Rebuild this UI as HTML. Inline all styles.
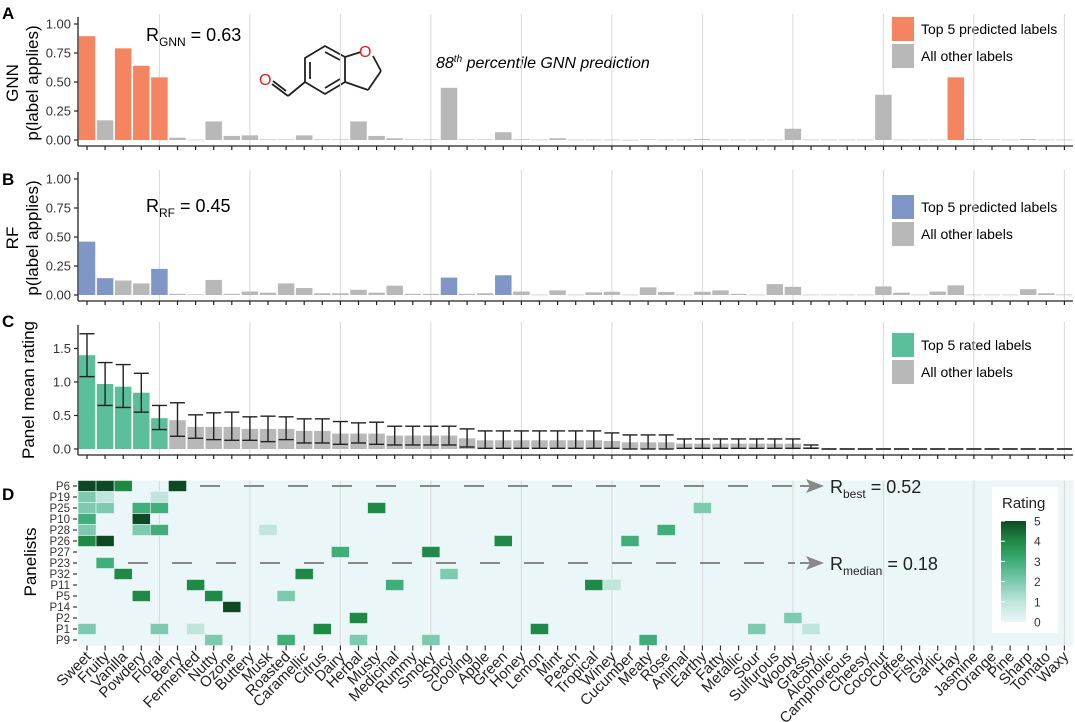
<!DOCTYPE html>
<html><head><meta charset="utf-8">
<style>
html,body{margin:0;padding:0;background:#fff;}
svg{display:block;font-family:"Liberation Sans",Arial,sans-serif;}
</style></head>
<body>
<svg id="chart" width="1075" height="722" viewBox="0 0 1075 722" xmlns="http://www.w3.org/2000/svg">
<g id="static">
  <text x="2" y="19" font-size="17" font-weight="bold">A</text>
  <text x="2" y="185" font-size="17" font-weight="bold">B</text>
  <text x="2" y="327" font-size="17" font-weight="bold">C</text>
  <text x="2" y="500" font-size="17" font-weight="bold">D</text>
  <text transform="translate(18,83) rotate(-90)" text-anchor="middle" font-size="17">GNN</text>
  <text transform="translate(38,83) rotate(-90)" text-anchor="middle" font-size="17">p(label applies)</text>
  <text transform="translate(18,238) rotate(-90)" text-anchor="middle" font-size="17">RF</text>
  <text transform="translate(38,238) rotate(-90)" text-anchor="middle" font-size="17">p(label applies)</text>
  <text transform="translate(34,390) rotate(-90)" text-anchor="middle" font-size="17">Panel mean rating</text>
  <text transform="translate(36,562) rotate(-90)" text-anchor="middle" font-size="17">Panelists</text>
  <text x="146" y="41" font-size="18">R<tspan font-size="12" dy="5">GNN</tspan><tspan dy="-5"> = 0.63</tspan></text>
  <text x="146" y="212" font-size="18">R<tspan font-size="12" dy="5">RF</tspan><tspan dy="-5"> = 0.45</tspan></text>
  <text x="436" y="68" font-size="16" font-style="italic">88<tspan font-size="10" dy="-6">th</tspan><tspan dy="6"> percentile GNN prediction</tspan></text>
  <g stroke="#222" stroke-width="1.8" fill="none">
    <polygon points="325,46 345,57 345,82 325,94 305,82 305,58"/>
    <line x1="325" y1="52" x2="340" y2="60"/>
    <line x1="340" y1="79" x2="325" y2="88"/>
    <line x1="310" y1="62" x2="310" y2="79"/>
    <line x1="345" y1="57" x2="361" y2="52"/>
    <line x1="373" y1="56" x2="381" y2="71"/>
    <line x1="381" y1="71" x2="368" y2="90"/>
    <line x1="368" y1="90" x2="345" y2="82"/>
    <line x1="305" y1="82" x2="288" y2="96"/>
    <line x1="288" y1="96" x2="272" y2="84"/>
    <line x1="286" y1="91" x2="273" y2="81"/>
  </g>
  <text x="359" y="57" font-size="16" fill="#e0201b">O</text>
  <text x="259" y="85" font-size="16" fill="#e0201b">O</text>
  <rect x="892" y="17" width="22" height="24" fill="#f58560"/>
  <rect x="892" y="44" width="22" height="24" fill="#b8b8b8"/>
  <text x="921" y="34" font-size="14">Top 5 predicted labels</text>
  <text x="921" y="61" font-size="14">All other labels</text>
  <rect x="892" y="195" width="22" height="24" fill="#7f96c6"/>
  <rect x="892" y="222" width="22" height="24" fill="#b8b8b8"/>
  <text x="921" y="212" font-size="14">Top 5 predicted labels</text>
  <text x="921" y="239" font-size="14">All other labels</text>
  <rect x="892" y="333" width="22" height="24" fill="#5bbf9c"/>
  <rect x="892" y="360" width="22" height="24" fill="#b8b8b8"/>
  <text x="921" y="350" font-size="14">Top 5 rated labels</text>
  <text x="921" y="377" font-size="14">All other labels</text>
</g>
<g id="dyn"></g>
</svg>
<script>
const labels = ["Sweet","Fruity","Vanilla","Powdery","Floral","Berry","Fermented","Nutty","Ozone","Buttery","Musk","Roasted","Caramellic","Citrus","Dairy","Herbal","Musty","Medicinal","Rummy","Smoky","Spicy","Cooling","Apple","Green","Honey","Lemon","Mint","Peach","Tropical","Winey","Cucumber","Meaty","Rose","Animal","Earthy","Fatty","Metallic","Sour","Sulfurous","Woody","Grassy","Alcoholic","Camphoreous","Cheesy","Coconut","Coffee","Fishy","Garlic","Hay","Jasmine","Orange","Pine","Sharp","Tomato","Waxy"];
const gnnValues = [0.895,0.17,0.79,0.64,0.54,0.02,0.003,0.16,0.035,0.04,0.005,0.005,0.04,0.005,0.005,0.16,0.035,0.015,0.005,0.005,0.45,0.005,0.005,0.067,0.006,0.003,0.015,0.003,0.003,0.003,0.002,0.005,0.003,0.003,0.008,0.003,0.003,0.003,0.003,0.097,0.003,0.003,0.003,0.003,0.39,0.003,0.003,0.003,0.54,0.008,0.005,0.003,0.008,0.003,0.003];
const gnnTop = [0,2,3,4,48];
const rfValues = [0.46,0.145,0.125,0.10,0.225,0.01,0.005,0.13,0.01,0.03,0.02,0.10,0.06,0.015,0.015,0.045,0.02,0.08,0.01,0.01,0.15,0.01,0.015,0.17,0.03,0.003,0.04,0.003,0.023,0.028,0.003,0.066,0.026,0.003,0.028,0.04,0.01,0.003,0.094,0.07,0.003,0.003,0.003,0.003,0.074,0.02,0.003,0.03,0.083,0.003,0.003,0.003,0.05,0.015,0.003];
const rfTop = [0,1,4,20,23];
const panelMean = [1.40,0.97,0.93,0.84,0.46,0.43,0.33,0.33,0.33,0.30,0.30,0.30,0.27,0.27,0.23,0.23,0.23,0.20,0.20,0.20,0.20,0.16,0.13,0.13,0.13,0.13,0.13,0.13,0.13,0.12,0.10,0.10,0.10,0.08,0.08,0.08,0.08,0.08,0.08,0.08,0.03,0,0,0,0,0,0,0,0,0,0,0,0,0,0];
const errUpper = [1.72,1.29,1.26,1.13,0.65,0.69,0.51,0.54,0.55,0.48,0.49,0.48,0.45,0.45,0.41,0.39,0.40,0.34,0.34,0.34,0.34,0.30,0.27,0.27,0.27,0.27,0.27,0.27,0.27,0.24,0.21,0.21,0.21,0.15,0.15,0.15,0.15,0.15,0.15,0.15,0.06,0,0,0,0,0,0,0,0,0,0,0,0,0,0];
const errLower = [1.08,0.65,0.62,0.55,0.29,0.19,0.16,0.14,0.13,0.13,0.11,0.14,0.09,0.09,0.07,0.09,0.07,0.06,0.06,0.06,0.06,0.03,0.01,0.01,0.01,0.01,0.01,0.01,0.01,0.01,0,0,0,0.01,0.01,0.01,0.01,0.01,0.01,0.01,0.01,0,0,0,0,0,0,0,0,0,0,0,0,0,0];
const panelists = ["P6","P19","P25","P10","P28","P26","P27","P23","P32","P11","P5","P14","P2","P1","P9"];
const cellRows = [0,0,0,0, 1,1,1, 2,2,2,2,2,2, 3,3, 4,4,4,4,4, 5,5,5,5, 6,6, 7, 8,8,8, 9,9,9,9, 10,10,10, 11, 12,12, 13,13,13,13,13,13,13, 14,14,14,14,14];
const cellCols = [0,1,2,5, 0,1,4, 0,1,3,4,16,34, 0,3, 0,3,4,10,32, 0,1,23,30, 14,19, 1, 2,12,20, 6,17,28,29, 3,7,11, 8, 15,39, 0,4,6,13,25,37,40, 7,11,15,19,31];
const cellVals = [5,5,4,5, 2,1,1, 2,2,3,3,4,2, 3,5, 2,2,3,1,3, 4,5,4,3, 3,4, 3, 4,4,2, 4,3,4,1, 4,4,2, 5, 4,2, 2,2,1,4,4,2,1, 2,3,2,2,3];
const ratingTicks = [0,1,2,3,4,5];
const aTicks = [0,0.25,0.5,0.75,1.0];
const cTicks = [0,0.5,1.0,1.5];

const NS = "http://www.w3.org/2000/svg";
const dyn = document.getElementById("dyn");
function mk(tag, attrs, parent, txt){
  const el = document.createElementNS(NS, tag);
  for (const k in attrs) el.setAttribute(k, attrs[k]);
  if (txt !== undefined) el.textContent = txt;
  (parent||dyn).appendChild(el);
  return el;
}
const X0 = 87, DX = 18.1, BW = 16.5;
const xc = i => X0 + DX * i;
const plotL = 78, plotR = 1073;
const yA = v => 140 - v * 116;
const yB = v => 295 - v * 116;
const yC = v => 449 - v * 67;
const HM_TOP = 480.5, ROWH = 11;
const colorScale = ["#eaf6f8","#bfe5dc","#7dcab0","#3fae78","#1f8a45","#0d4a23"];

let bg = mk("rect",{x:plotL,y:HM_TOP,width:plotR-plotL,height:ROWH*panelists.length,fill:"#eaf6f8"});



function grid(top,bottom){
  for (let i = 4; i < labels.length; i += 5) {
    const g = mk("line",{x1:xc(i),x2:xc(i),y1:top,y2:bottom,stroke:"#d9d9d9","stroke-width":1});
    
    
  }
}
grid(14,146); grid(170,301); grid(322,455); grid(HM_TOP,HM_TOP+ROWH*panelists.length);

function axes(yfn, ticks, top, axisY, fmt, name){
  const ya = mk("line",{x1:plotL,x2:plotL,y1:top,y2:axisY,stroke:"#222","stroke-width":1.3});
  
  
  const xa = mk("line",{x1:plotL,x2:plotR,y1:axisY,y2:axisY,stroke:"#222","stroke-width":1.3});
  
  
  ticks.forEach(t => {
    const y = yfn(t);
    const tk = mk("line",{x1:plotL-4,x2:plotL,y1:y,y2:y,stroke:"#222","stroke-width":1.2});
    
    
    const tl = mk("text",{x:plotL-7,y:y+4.5,"text-anchor":"end","font-size":13,fill:"#333"},null,fmt(t));
    
    
  });
  labels.forEach((l,i) => {
    const tk = mk("line",{x1:xc(i),x2:xc(i),y1:axisY,y2:axisY+4,stroke:"#222","stroke-width":1.2});
    
    
  });
}
axes(yA, aTicks, 17, 146, t=>t.toFixed(2), "panel-a");
axes(yB, aTicks, 172, 301, t=>t.toFixed(2), "panel-b");
axes(yC, cTicks, 325, 455, t=>t.toFixed(1), "panel-c");

gnnValues.forEach((v,i) => {
  const top = gnnTop.includes(i);
  const r = mk("rect",{x:xc(i)-BW/2,y:yA(v),width:BW,height:Math.max(0.6,yA(0)-yA(v)),fill:top?"#f58560":"#b8b8b8"});
  
  
});
rfValues.forEach((v,i) => {
  const top = rfTop.includes(i);
  const r = mk("rect",{x:xc(i)-BW/2,y:yB(v),width:BW,height:Math.max(0.6,yB(0)-yB(v)),fill:top?"#7f96c6":"#b8b8b8"});
  
  
});
panelMean.forEach((v,i) => {
  const r = mk("rect",{x:xc(i)-BW/2,y:yC(v),width:BW,height:Math.max(0,yC(0)-yC(v)),fill:i<5?"#5bbf9c":"#b8b8b8"});
  
  
  const g = mk("g",{stroke:"#222","stroke-width":1.4});
  
  
  const hu = yC(errUpper[i]), hl = yC(errLower[i]);
  mk("line",{x1:xc(i),x2:xc(i),y1:hu,y2:hl},g);
  mk("line",{x1:xc(i)-7.5,x2:xc(i)+7.5,y1:hu,y2:hu},g);
  mk("line",{x1:xc(i)-7.5,x2:xc(i)+7.5,y1:hl,y2:hl},g);
});

cellVals.forEach((v,k) => {
  const c = mk("rect",{x:xc(cellCols[k])-DX/2,y:HM_TOP+cellRows[k]*ROWH,width:DX,height:ROWH,fill:colorScale[v],stroke:"#eaf6f8","stroke-width":0.6});
  
  
});
panelists.forEach((p,r) => {
  const y = HM_TOP + r*ROWH + ROWH/2;
  const t = mk("text",{x:plotL-8,y:y+4,"text-anchor":"end","font-size":11.5,fill:"#333"},null,p);
  
  
  const tk = mk("line",{x1:plotL-5,x2:plotL-1,y1:y,y2:y,stroke:"#333","stroke-width":1.2});
  
  
});
const hmBottom = HM_TOP + ROWH*panelists.length;
labels.forEach((l,i) => {
  const tk = mk("line",{x1:xc(i),x2:xc(i),y1:hmBottom,y2:hmBottom+5,stroke:"#333","stroke-width":1.2});
  
  
  const t = mk("text",{transform:`translate(${xc(i)+5},${hmBottom+12}) rotate(-45)`,"text-anchor":"end","font-size":15,fill:"#222"},null,l);
  
  
});

function dashArrow(row, x1, name, main, sub, val){
  const y = HM_TOP + row*ROWH + ROWH/2;
  const l = mk("line",{x1:x1,x2:795,y1:y,y2:y,stroke:"#888","stroke-width":2,"stroke-dasharray":"20 24"});
  
  
  const s = mk("line",{x1:800,x2:812,y1:y,y2:y,stroke:"#888","stroke-width":2});
  
  
  const a = mk("polygon",{points:`806,${y-7} 824,${y} 806,${y+7} 810,${y}`,fill:"#888"});
  
  
  const t = mk("text",{x:830,y:y+7,"font-size":18,fill:"#222"});
  
  
  mk("tspan",{},t,main);
  mk("tspan",{"font-size":12,dy:5},t,sub);
  mk("tspan",{dy:-5},t," = "+val);
}
dashArrow(0, 200, "r-best", "R", "best", "0.52");
dashArrow(7, 128, "r-median", "R", "median", "0.18");

const lg = mk("rect",{x:992,y:487,width:66,height:146,fill:"#fff"});


const lt = mk("text",{x:1002,y:508,"font-size":15,fill:"#222"},null,"Rating");


const defs = mk("defs",{});
const grad = mk("linearGradient",{id:"rg",x1:0,y1:1,x2:0,y2:0},defs);
colorScale.forEach((c,k)=>mk("stop",{offset:k/5,"stop-color":c},grad));
const cb = mk("rect",{x:1001,y:521,width:25,height:101,fill:"url(#rg)"});


ratingTicks.forEach(t => {
  const y = 622 - t*101/5;
  const tl = mk("text",{x:1034,y:y+4.5,"font-size":12,fill:"#333"},null,String(t));
  
  
  const tk = mk("line",{x1:1001,x2:1005,y1:y,y2:y,stroke:"#fff","stroke-width":1});
  
  
});
</script>
</body></html>
